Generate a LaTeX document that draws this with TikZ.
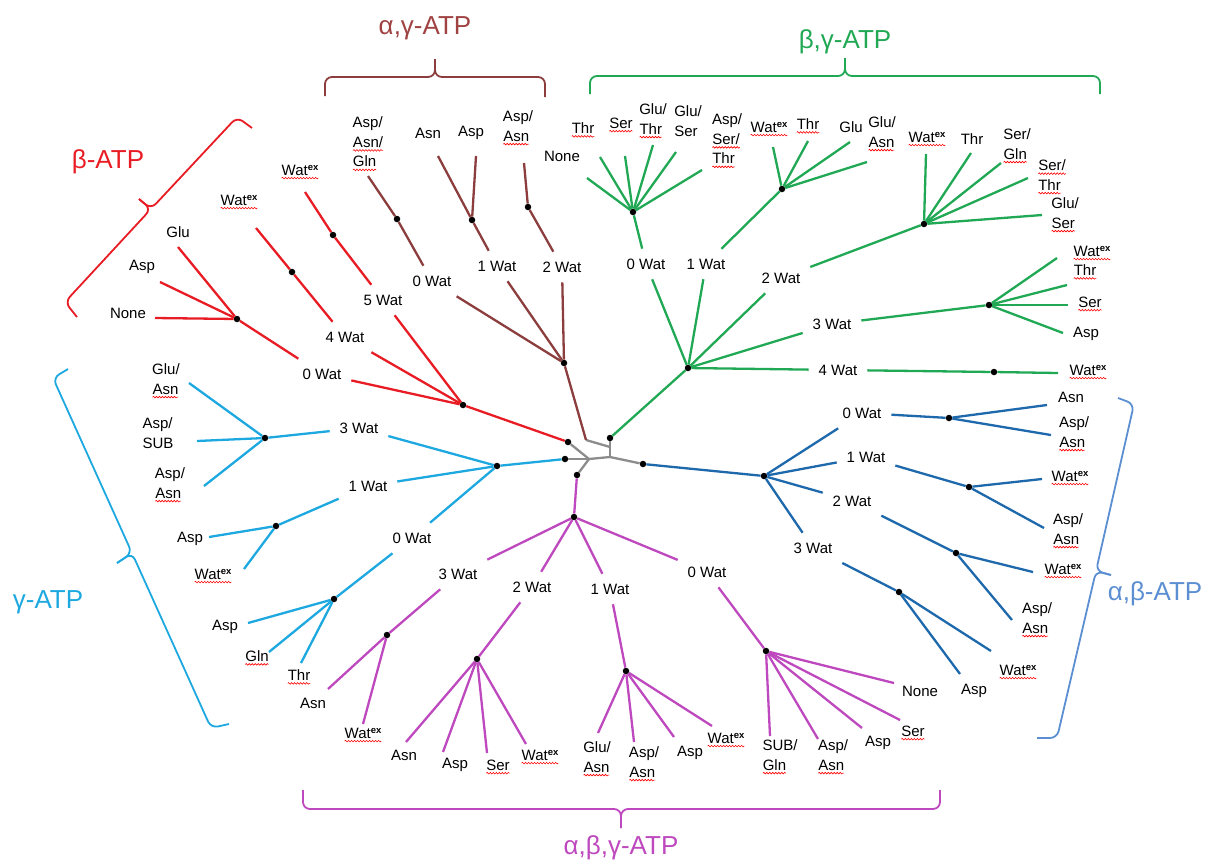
\documentclass[tikz,border=0pt]{standalone}
\usepackage{fontspec}
\setmainfont{Liberation Sans}
\usepackage{xcolor}
\usetikzlibrary{decorations.pathmorphing}

\definecolor{atpred}{RGB}{232,28,36}
\definecolor{atpbrown}{RGB}{140,62,62}
\definecolor{atpbrowntxt}{RGB}{160,66,66}
\definecolor{atpgreen}{RGB}{32,168,84}
\definecolor{atpcyan}{RGB}{30,168,224}
\definecolor{atpmag}{RGB}{190,72,190}
\definecolor{atpblue}{RGB}{30,104,172}
\definecolor{atpbluelt}{RGB}{92,142,210}
\definecolor{hubgray}{RGB}{140,140,140}

\newcommand\lblfont{\fontsize{15}{19.5}\selectfont}
% red spell-check wave under a word
\newcommand\spellsq[1]{\tikz[baseline=(sq.base),x=1pt,y=1pt]{\node[inner sep=0pt,outer sep=0pt] (sq) {#1};
  \draw[red,line width=0.6pt,decorate,decoration={snake,amplitude=0.8pt,segment length=3pt}] ([yshift=-3pt]sq.base west) -- ([yshift=-3pt]sq.base east);}}
\newcommand\wex{\spellsq{Wat\raisebox{5pt}{\fontsize{9.5}{10}\selectfont\bfseries ex}}}

\begin{document}
\begin{tikzpicture}[x=1pt,y=-1pt]
  \tikzset{ln/.style = {line width=2.3pt}}
  \tikzset{hub/.style = {line width=2.3pt, hubgray}}
  \tikzset{dot/.style = {shape=circle,fill=black,inner sep=0pt,minimum size=6.5pt}}
  \tikzset{wat/.style = {inner sep=2pt,outer sep=8pt,font=\lblfont}}
  \tikzset{leaf/.style = {align=left,inner sep=0pt,font=\lblfont}}
  \tikzset{grp/.style = {font=\fontsize{26}{28}\selectfont}}
  \tikzset{brace/.style = {line width=1.8pt,rounded corners=7pt}}

  \useasboundingbox (0,0) rectangle (1205,863);

  % hub
  \coordinate (hubL) at (589,459);
  \coordinate (hubR) at (610,457);
  \coordinate (hubB) at (610,447);
  \coordinate (brEnd) at (586,440);
  \node[dot] (rd0) at (568,442) {};
  \node[dot] (cd0) at (565,459) {};
  \node[dot] (md0) at (577,475) {};
  \node[dot] (gd0) at (610,438) {};
  \node[dot] (bd0) at (643,464) {};
  \foreach \from/\to in {rd0/hubL, cd0/hubL, hubL/md0, hubL/hubR, hubR/bd0, gd0/hubR, brEnd/hubB}
    \draw[hub] (\from) -- (\to);

  % beta-ATP
  \node[dot] (rj) at (463,405) {};
  \node[wat] (r0) at (322,374) {0 Wat};
  \node[wat] (r4) at (345,337) {4 Wat};
  \node[wat] (r5) at (383,300) {5 Wat};
  \node[dot] (r0j) at (237,319) {};
  \node[dot] (r4j) at (292,272) {};
  \node[dot] (r5j) at (333,235) {};
  \coordinate (r4s) at (256,228);
  \coordinate (r5s) at (305,192);
  \node[leaf] (r4l) at (239,202) {\wex};
  \node[leaf] (r5l) at (300,172) {\wex};
  \foreach \from/\to in {rd0/rj, rj/r0, r0/r0j, rj/r4, r4/r4j, r4j/r4s, rj/r5, r5/r5j, r5j/r5s}
    \draw[ln,atpred] (\from) -- (\to);
  \foreach \nm/\ep/\lp/\txt in {a/{155,318}/{128,313}/None, b/{160,282}/{142,267}/Asp, c/{178,247}/{178,232}/Glu}
    {\coordinate (r0e\nm) at (\ep); \node[leaf] (r0l\nm) at (\lp) {\txt}; \draw[ln,atpred] (r0j) -- (r0e\nm);}

  % alpha,gamma-ATP
  \node[dot] (brj) at (564,363) {};
  \node[wat] (br0) at (432,281) {0 Wat};
  \node[wat] (br1) at (497,266) {1 Wat};
  \node[wat] (br2) at (562,267) {2 Wat};
  \node[dot] (br0j) at (397,219) {};
  \node[dot] (br1j) at (472,220) {};
  \node[dot] (br2j) at (528,207) {};
  \coordinate (br0s) at (368,176);
  \coordinate (br2s) at (524,163);
  \node[leaf] (br0l) at (368,144) {Asp/\\\spellsq{Asn/}\\\spellsq{Gln}};
  \node[leaf] (br2l) at (518,128) {Asp/\\\spellsq{Asn}};
  \foreach \from/\to in {brEnd/brj, brj/br0, br0/br0j, br0j/br0s, brj/br1, br1/br1j, brj/br2, br2/br2j, br2j/br2s}
    \draw[ln,atpbrown] (\from) -- (\to);
  \foreach \nm/\ep/\lp/\txt in {a/{438,156}/{428,133}/Asn, b/{476,156}/{471,133}/Asp}
    {\coordinate (br1e\nm) at (\ep); \node[leaf] (br1l\nm) at (\lp) {\txt}; \draw[ln,atpbrown] (br1j) -- (br1e\nm);}

  % beta,gamma-ATP
  \node[dot] (grj) at (688,368) {};
  \node[wat] (gr0) at (646,264) {0 Wat};
  \node[wat] (gr1) at (706,264) {1 Wat};
  \node[wat] (gr2) at (781,278) {2 Wat};
  \node[wat] (gr3) at (832,324) {3 Wat};
  \node[wat] (gr4) at (838,370) {4 Wat};
  \node[dot] (gr0j) at (633,212) {};
  \node[dot] (gr1j) at (782,189) {};
  \node[dot] (gr2j) at (924,224) {};
  \node[dot] (gr3j) at (989,305) {};
  \node[dot] (gr4j) at (994,372) {};
  \coordinate (gr4e) at (1058,373);
  \node[leaf] (gr4l) at (1088,372) {\wex};
  \foreach \from/\to in {gd0/grj, grj/gr0, gr0/gr0j, grj/gr1, gr1/gr1j, grj/gr2, gr2/gr2j, grj/gr3, gr3/gr3j, grj/gr4, gr4/gr4j, gr4j/gr4e}
    \draw[ln,atpgreen] (\from) -- (\to);
  \foreach \nm/\ep/\lp/\txt in {a/{587,178}/{562,156}/None, b/{600,157}/{583,130}/\spellsq{Thr}, c/{625,156}/{621,125}/\spellsq{Ser},
      d/{653,145}/{653,121}/{Glu/\\\spellsq{Thr}}, e/{676,152}/{688,121}/{Glu/\\Ser}, f/{702,170}/{727,141}/{Asp/\\\spellsq{Ser/}\\\spellsq{Thr}}}
    {\coordinate (gr0e\nm) at (\ep); \node[leaf] (gr0l\nm) at (\lp) {\txt}; \draw[ln,atpgreen] (gr0j) -- (gr0e\nm);}
  \foreach \nm/\ep/\lp/\txt in {a/{773,147}/{769,129}/\wex, b/{808,141}/{808,126}/\spellsq{Thr}, c/{850,142}/{851,127}/Glu,
      d/{867,162}/{882,134}/{Glu/\\\spellsq{Asn}}}
    {\coordinate (gr1e\nm) at (\ep); \node[leaf] (gr1l\nm) at (\lp) {\txt}; \draw[ln,atpgreen] (gr1j) -- (gr1e\nm);}
  \foreach \nm/\ep/\lp/\txt in {a/{926,154}/{927,139}/\wex, b/{971,153}/{972,139}/Thr, c/{1001,163}/{1017,146}/{Ser/\\\spellsq{Gln}},
      d/{1028,178}/{1052,177}/{\spellsq{Ser/}\\\spellsq{Thr}}, e/{1042,215}/{1065,215}/{Glu/\\\spellsq{Ser}}}
    {\coordinate (gr2e\nm) at (\ep); \node[leaf] (gr2l\nm) at (\lp) {\txt}; \draw[ln,atpgreen] (gr2j) -- (gr2e\nm);}
  \foreach \nm/\ep/\lp/\txt in {a/{1057,258}/{1092,253}/\wex, b/{1067,285}/{1085,272}/\spellsq{Thr}, c/{1068,305}/{1090,304}/\spellsq{Ser},
      d/{1063,333}/{1086,334}/Asp}
    {\coordinate (gr3e\nm) at (\ep); \node[leaf] (gr3l\nm) at (\lp) {\txt}; \draw[ln,atpgreen] (gr3j) -- (gr3e\nm);}

  % gamma-ATP
  \node[dot] (cyj) at (497,466) {};
  \node[wat] (cy3) at (359,428) {3 Wat};
  \node[wat] (cy1) at (368,486) {1 Wat};
  \node[wat] (cy0) at (412,538) {0 Wat};
  \node[dot] (cy3j) at (265,438) {};
  \node[dot] (cy1j) at (276,526) {};
  \node[dot] (cy0j) at (334,599) {};
  \foreach \from/\to in {cd0/cyj, cyj/cy3, cy3/cy3j, cyj/cy1, cy1/cy1j, cyj/cy0, cy0/cy0j}
    \draw[ln,atpcyan] (\from) -- (\to);
  \foreach \nm/\ep/\lp/\txt in {a/{189,383}/{166,381}/{Glu/\\\spellsq{Asn}}, b/{197,441}/{158,433}/{Asp/\\SUB},
      c/{204,486}/{170,485}/{Asp/\\\spellsq{Asn}}}
    {\coordinate (cy3e\nm) at (\ep); \node[leaf] (cy3l\nm) at (\lp) {\txt}; \draw[ln,atpcyan] (cy3j) -- (cy3e\nm);}
  \foreach \nm/\ep/\lp/\txt in {a/{209,537}/{190,539}/Asp, b/{244,569}/{213,576}/\wex}
    {\coordinate (cy1e\nm) at (\ep); \node[leaf] (cy1l\nm) at (\lp) {\txt}; \draw[ln,atpcyan] (cy1j) -- (cy1e\nm);}
  \foreach \nm/\ep/\lp/\txt in {a/{248,623}/{225,627}/Asp, b/{269,652}/{257,658}/\spellsq{Gln}, c/{301,663}/{299,677}/\spellsq{Thr}}
    {\coordinate (cy0e\nm) at (\ep); \node[leaf] (cy0l\nm) at (\lp) {\txt}; \draw[ln,atpcyan] (cy0j) -- (cy0e\nm);}

  % alpha,beta,gamma-ATP
  \node[dot] (mgj) at (574,517) {};
  \node[wat] (mg3) at (458,574) {3 Wat};
  \node[wat] (mg2) at (532,587) {2 Wat};
  \node[wat] (mg1) at (610,589) {1 Wat};
  \node[wat] (mg0) at (707,572) {0 Wat};
  \node[dot] (mg3j) at (387,635) {};
  \node[dot] (mg2j) at (477,659) {};
  \node[dot] (mg1j) at (626,671) {};
  \node[dot] (mg0j) at (766,651) {};
  \foreach \from/\to in {md0/mgj, mgj/mg3, mg3/mg3j, mgj/mg2, mg2/mg2j, mgj/mg1, mg1/mg1j, mgj/mg0, mg0/mg0j}
    \draw[ln,atpmag] (\from) -- (\to);
  \foreach \nm/\ep/\lp/\txt in {a/{328,689}/{313,703}/Asn, b/{363,724}/{363,735}/\wex}
    {\coordinate (mg3e\nm) at (\ep); \node[leaf] (mg3l\nm) at (\lp) {\txt}; \draw[ln,atpmag] (mg3j) -- (mg3e\nm);}
  \foreach \nm/\ep/\lp/\txt in {a/{406,742}/{404,755}/Asn, b/{443,752}/{455,765}/Asp, c/{487,753}/{498,767}/\spellsq{Ser},
      d/{526,744}/{540,757}/\wex}
    {\coordinate (mg2e\nm) at (\ep); \node[leaf] (mg2l\nm) at (\lp) {\txt}; \draw[ln,atpmag] (mg2j) -- (mg2e\nm);}
  \foreach \nm/\ep/\lp/\txt in {a/{598,733}/{597,759}/{Glu/\\\spellsq{Asn}}, b/{634,742}/{644,764}/{Asp/\\\spellsq{Asn}},
      c/{674,737}/{690,753}/Asp, d/{712,726}/{726,740}/\wex}
    {\coordinate (mg1e\nm) at (\ep); \node[leaf] (mg1l\nm) at (\lp) {\txt}; \draw[ln,atpmag] (mg1j) -- (mg1e\nm);}
  \foreach \nm/\ep/\lp/\txt in {a/{894,683}/{920,691}/None, b/{900,720}/{913,733}/\spellsq{Ser}, c/{862,728}/{878,743}/Asp,
      d/{818,739}/{833,757}/{Asp/\\\spellsq{Asn}}, e/{770,736}/{780,757}/{SUB/\\\spellsq{Gln}}}
    {\coordinate (mg0e\nm) at (\ep); \node[leaf] (mg0l\nm) at (\lp) {\txt}; \draw[ln,atpmag] (mg0j) -- (mg0e\nm);}

  % alpha,beta-ATP
  \node[dot] (blj) at (764,476) {};
  \node[wat] (bl0) at (862,413) {0 Wat};
  \node[wat] (bl1) at (866,457) {1 Wat};
  \node[wat] (bl2) at (852,501) {2 Wat};
  \node[wat] (bl3) at (813,548) {3 Wat};
  \node[dot] (bl0j) at (949,418) {};
  \node[dot] (bl1j) at (969,487) {};
  \node[dot] (bl2j) at (956,553) {};
  \node[dot] (bl3j) at (899,592) {};
  \foreach \from/\to in {bd0/blj, blj/bl0, bl0/bl0j, blj/bl1, bl1/bl1j, blj/bl2, bl2/bl2j, blj/bl3, bl3/bl3j}
    \draw[ln,atpblue] (\from) -- (\to);
  \foreach \nm/\ep/\lp/\txt in {a/{1047,405}/{1071,397}/Asn, b/{1051,435}/{1074,434}/{Asp/\\\spellsq{Asn}}}
    {\coordinate (bl0e\nm) at (\ep); \node[leaf] (bl0l\nm) at (\lp) {\txt}; \draw[ln,atpblue] (bl0j) -- (bl0e\nm);}
  \foreach \nm/\ep/\lp/\txt in {a/{1042,479}/{1070,478}/\wex, b/{1044,528}/{1068,531}/{Asp/\\\spellsq{Asn}}}
    {\coordinate (bl1e\nm) at (\ep); \node[leaf] (bl1l\nm) at (\lp) {\txt}; \draw[ln,atpblue] (bl1j) -- (bl1e\nm);}
  \foreach \nm/\ep/\lp/\txt in {a/{1033,572}/{1063,571}/\wex, b/{1012,620}/{1037,620}/{Asp/\\\spellsq{Asn}}}
    {\coordinate (bl2e\nm) at (\ep); \node[leaf] (bl2l\nm) at (\lp) {\txt}; \draw[ln,atpblue] (bl2j) -- (bl2e\nm);}
  \foreach \nm/\ep/\lp/\txt in {a/{991,651}/{1018,672}/\wex, b/{960,674}/{974,691}/Asp}
    {\coordinate (bl3e\nm) at (\ep); \node[leaf] (bl3l\nm) at (\lp) {\txt}; \draw[ln,atpblue] (bl3j) -- (bl3e\nm);}

  % braces and group names
  \draw[brace,atpred] (252,128) -- (237,117) -- (151,209) -- (139,199);
  \draw[brace,atpred] (77,317) -- (65,302) -- (151,209) -- (139,199);
  \node[grp,text=atpred] (tBeta) at (108,162) {β-ATP};

  \draw[brace,atpbrown] (325,96) -- (325,77) -- (435,77) -- (435,59);
  \draw[brace,atpbrown] (545,97) -- (545,77) -- (435,77) -- (435,59);
  \node[grp,text=atpbrowntxt] (tAlGa) at (425,28) {α,γ-ATP};

  \draw[brace,atpgreen] (590,94) -- (590,76) -- (845,76) -- (845,58);
  \draw[brace,atpgreen] (1100,94) -- (1100,76) -- (845,76) -- (845,58);
  \node[grp,text=atpgreen] (tBeGa) at (845,42) {β,γ-ATP};

  \draw[brace,atpcyan] (68,369) -- (53,378) -- (132,553) -- (117,563);
  \draw[brace,atpcyan] (229,724) -- (211,728) -- (132,553) -- (117,563);
  \node[grp,text=atpcyan] (tGa) at (48,602) {γ-ATP};

  \draw[brace,atpmag] (303,790) -- (303,809) -- (621,809) -- (621,828);
  \draw[brace,atpmag] (940,790) -- (940,809) -- (621,809) -- (621,828);
  \node[grp,text=atpmag] (tAll) at (621,848) {α,β,γ-ATP};

  \draw[brace,atpbluelt] (1118,398) -- (1134,404) -- (1096,571) -- (1111,575);
  \draw[brace,atpbluelt] (1037,738) -- (1057,738) -- (1096,571) -- (1111,575);
  \node[grp,text=atpbluelt] (tAlBe) at (1155,594) {α,β-ATP};
\end{tikzpicture}
\end{document}
